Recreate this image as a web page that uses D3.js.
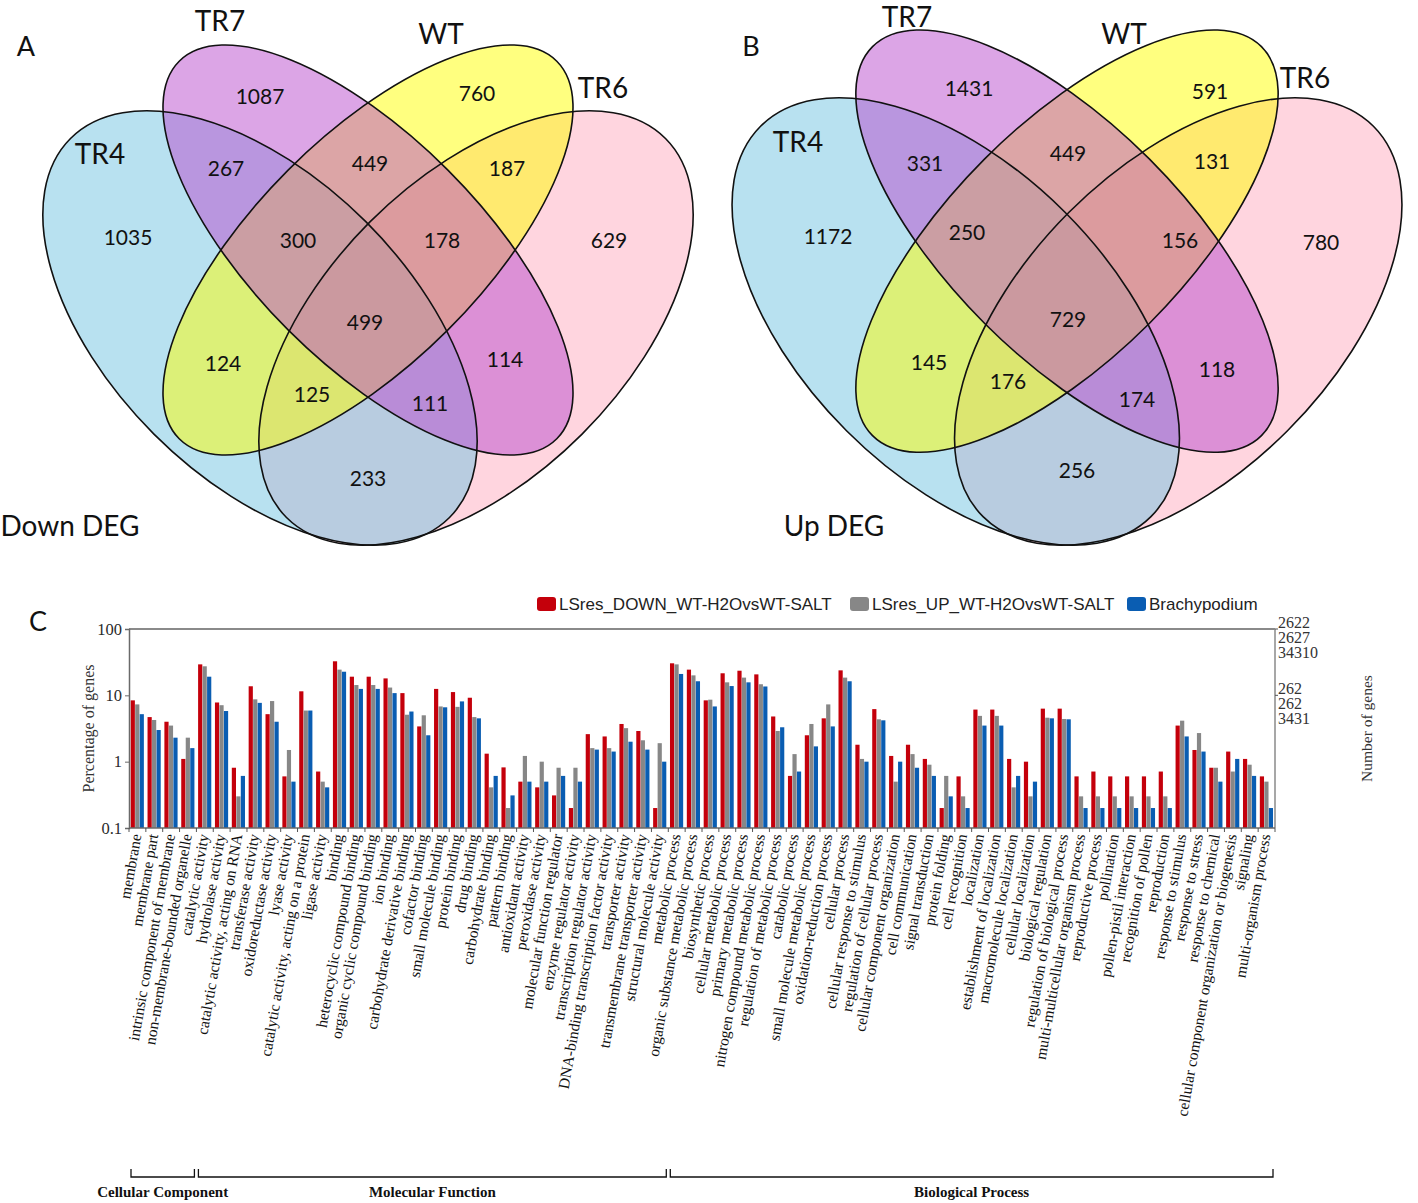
<!DOCTYPE html>
<html><head><meta charset="utf-8">
<script src="https://cdn.jsdelivr.net/npm/d3@7"></script>
<style>body{margin:0;background:#fff}svg{display:block}</style>
</head><body>
<svg id="c" width="1418" height="1203"></svg>
<script>
// ---------------- DATA ----------------
const vennSets = ["TR4", "TR7", "WT", "TR6"];
const regionKeys = ["TR7", "WT", "TR4&TR7", "TR7&WT", "WT&TR6", "TR4", "TR4&TR7&WT", "TR7&WT&TR6",
  "TR6", "TR4&TR7&WT&TR6", "TR4&WT", "TR7&TR6", "TR4&WT&TR6", "TR4&TR7&TR6", "TR4&TR6"];
const downCounts = [1087, 760, 267, 449, 187, 1035, 300, 178, 629, 499, 124, 114, 125, 111, 233];
const upCounts   = [1431, 591, 331, 449, 131, 1172, 250, 156, 780, 729, 145, 118, 176, 174, 256];

const categories = ["membrane", "membrane part", "intrinsic component of membrane", "non-membrane-bounded organelle",
  "catalytic activity", "hydrolase activity", "catalytic activity, acting on RNA", "transferase activity",
  "oxidoreductase activity", "lyase activity", "catalytic activity, acting on a protein", "ligase activity",
  "binding", "heterocyclic compound binding", "organic cyclic compound binding", "ion binding",
  "carbohydrate derivative binding", "cofactor binding", "small molecule binding", "protein binding",
  "drug binding", "carbohydrate binding", "pattern binding", "antioxidant activity", "peroxidase activity",
  "molecular function regulator", "enzyme regulator activity", "transcription regulator activity",
  "DNA-binding transcription factor activity", "transporter activity", "transmembrane transporter activity",
  "structural molecule activity",
  "metabolic process", "organic substance metabolic process", "biosynthetic process", "cellular metabolic process",
  "primary metabolic process", "nitrogen compound metabolic process", "regulation of metabolic process",
  "catabolic process", "small molecule metabolic process", "oxidation-reduction process", "cellular process",
  "cellular response to stimulus", "regulation of cellular process", "cellular component organization",
  "cell communication", "signal transduction", "protein folding", "cell recognition", "localization",
  "establishment of localization", "macromolecule localization", "cellular localization", "biological regulation",
  "regulation of biological process", "multi-multicellular organism process", "reproductive process", "pollination",
  "pollen-pistil interaction", "recognition of pollen", "reproduction", "response to stimulus", "response to stress",
  "response to chemical", "cellular component organization or biogenesis", "signaling", "multi-organism process"];

const groupNames = ["Cellular Component", "Molecular Function", "Biological Process"];
const groupSizes = [4, 28, 36];

const seriesNames = ["LSres_DOWN_WT-H2OvsWT-SALT", "LSres_UP_WT-H2OvsWT-SALT", "Brachypodium"];
const downPct = [8.4, 4.7, 4.0, 1.1, 29.3, 7.8, 0.81, 13.7, 5.2, 0.6, 11.5, 0.71, 32.6, 19.1, 19.1, 18.0,
  10.8, 3.4, 12.5, 11.2, 9.2, 1.32, 0.82, 0.5, 0.41, 0.31, 0.2, 2.6, 2.4, 3.7, 2.9, 0.2,
  30.4, 24.4, 8.4, 21.5, 23.5, 20.7, 4.8, 0.61, 2.5, 4.5, 23.8, 1.8, 6.2, 1.22, 1.8, 1.1, 0.2, 0.6,
  6.1, 6.1, 1.1, 1.0, 6.3, 6.3, 0.6, 0.71, 0.6, 0.6, 0.6, 0.71, 3.5, 1.5, 0.81, 1.42, 1.1, 0.6];
const upPct = [7.3, 4.25, 3.5, 2.3, 27.4, 7.1, 0.3, 8.7, 8.2, 1.5, 5.9, 0.5, 24.4, 14.3, 14.3, 13.1,
  5.1, 5.0, 6.8, 6.7, 4.7, 0.41, 0.2, 1.22, 1.0, 0.81, 0.81, 1.6, 1.6, 3.2, 2.1, 1.9,
  29.3, 20.0, 8.6, 15.7, 18.5, 14.7, 2.9, 1.3, 3.7, 7.3, 18.5, 1.1, 4.35, 0.5, 1.3, 0.9, 0.61, 0.3,
  4.9, 4.9, 0.41, 0.3, 4.6, 4.4, 0.3, 0.3, 0.3, 0.3, 0.3, 0.3, 4.15, 2.7, 0.81, 0.71, 0.9, 0.5];
const brachyPct = [5.2, 3.0, 2.3, 1.6, 19.1, 5.8, 0.61, 7.7, 4.0, 0.5, 5.9, 0.41, 22.7, 12.5, 12.5, 10.8,
  5.7, 2.5, 6.6, 8.1, 4.5, 0.61, 0.31, 0.5, 0.5, 0.61, 0.5, 1.52, 1.42, 2.0, 1.52, 1.0,
  21.0, 16.3, 6.8, 13.8, 15.7, 13.6, 3.3, 0.71, 1.7, 3.4, 16.3, 1.0, 4.2, 1.0, 0.81, 0.61, 0.3, 0.2,
  3.5, 3.5, 0.61, 0.5, 4.5, 4.35, 0.2, 0.2, 0.2, 0.2, 0.2, 0.2, 2.4, 1.42, 0.5, 1.1, 0.61, 0.2];

const yTicks = [0.1, 1, 10, 100];
const rightTicks = [100, 10];
const rightTickGenes = [[2622, 2627, 34310], [262, 262, 3431]];

// ---------------- LAYOUT ----------------
const svg = d3.select("#c");
const vennFont = "Lato, 'Open Sans', sans-serif";
const serif = "'Liberation Serif', 'Times New Roman', serif";
const sans = "'Liberation Sans', Arial, sans-serif";

// Venn ellipse geometry (panel A pixels), per set
const ellGeom = {
  TR4: {cx: 260, cy: 328, rx: 268, ry: 150, rot: 45},
  TR7: {cx: 368, cy: 250, rx: 267, ry: 113, rot: 45},
  WT:  {cx: 368, cy: 250, rx: 267, ry: 113, rot: -45},
  TR6: {cx: 476, cy: 328, rx: 268, ry: 150, rot: -45}
};
const setColor = {TR4: "#72c3e2", TR7: "#b94bcd", WT: "#ffff00", TR6: "#ffabbf"};
const drawOrder = ["TR6", "TR4", "WT", "TR7"];

const panels = [
  {
    counts: downCounts, title: "Down DEG", letter: "A",
    tx: x => x, ty: y => y, k: 1,
    letterPos: [26, 45], titlePos: [70, 525],
    setLabelPos: {TR4: [100, 153], TR7: [220, 20], WT: [441, 33], TR6: [603, 87]},
    labelPos: [[260,95],[477,92],[226,167],[370,162],[507,167],[128,236],[298,239],[442,239],
               [609,239],[365,321],[223,362],[505,358],[312,393],[430,402],[368,477]]
  },
  {
    counts: upCounts, title: "Up DEG", letter: "B",
    tx: x => 1067 + 1.03 * (x - 368), ty: y => 545 + 1.03 * (y - 545), k: 1.03,
    letterPos: [751, 45], titlePos: [834, 525],
    setLabelPos: {TR4: [798, 141], TR7: [907, 16], WT: [1124, 33], TR6: [1305, 77]},
    labelPos: [[969,87],[1210,90],[925,162],[1068,152],[1212,160],[828,235],[967,231],[1180,239],
               [1321,241],[1068,318],[929,361],[1217,368],[1008,380],[1137,398],[1077,469]]
  }
];

panels.forEach(p => {
  const g = svg.append("g");
  const ell = s => {
    const e = ellGeom[s];
    return {cx: p.tx(e.cx), cy: p.ty(e.cy), rx: e.rx * p.k, ry: e.ry * p.k, rot: e.rot};
  };
  const shape = function(s) {
    const e = ell(s);
    d3.select(this).attr("cx", 0).attr("cy", 0).attr("rx", e.rx).attr("ry", e.ry)
      .attr("transform", `translate(${e.cx},${e.cy}) rotate(${e.rot})`);
  };
  g.selectAll("ellipse.fill").data(drawOrder).join("ellipse")
    .attr("class", "fill").each(shape)
    .attr("fill", s => setColor[s]).attr("fill-opacity", 0.5).attr("stroke", "none");
  g.selectAll("ellipse.line").data(drawOrder).join("ellipse")
    .attr("class", "line").each(shape)
    .attr("fill", "none").attr("stroke", "#111").attr("stroke-width", 1.6);

  g.selectAll("text.num").data(p.counts).join("text")
    .attr("class", "num")
    .attr("x", (d, i) => p.labelPos[i][0]).attr("y", (d, i) => p.labelPos[i][1])
    .attr("text-anchor", "middle").attr("dominant-baseline", "central")
    .attr("font-family", vennFont).attr("font-size", 21).attr("fill", "#111")
    .text(d => d);

  g.selectAll("text.set").data(vennSets).join("text")
    .attr("class", "set")
    .attr("x", s => p.setLabelPos[s][0]).attr("y", s => p.setLabelPos[s][1])
    .attr("text-anchor", "middle").attr("dominant-baseline", "central")
    .attr("font-family", vennFont).attr("font-size", 28).attr("fill", "#111")
    .text(s => s);

  g.append("text").attr("x", p.letterPos[0]).attr("y", p.letterPos[1])
    .attr("text-anchor", "middle").attr("dominant-baseline", "central")
    .attr("font-family", vennFont).attr("font-size", 27).attr("fill", "#111").text(p.letter);
  g.append("text").attr("x", p.titlePos[0]).attr("y", p.titlePos[1])
    .attr("text-anchor", "middle").attr("dominant-baseline", "central")
    .attr("font-family", vennFont).attr("font-size", 28).attr("fill", "#111").text(p.title);
});

svg.append("text").attr("x", 38).attr("y", 620)
  .attr("text-anchor", "middle").attr("dominant-baseline", "central")
  .attr("font-family", vennFont).attr("font-size", 27).attr("fill", "#111").text("C");

// ---------------- BAR CHART ----------------
const L = 129, R = 1275, T = 629, B = 828;
const x = d3.scaleBand().domain(categories).range([L, R]).paddingInner(0.2).paddingOuter(0.1);
const step = x.step();
const xs = d3.scaleBand().domain(seriesNames).range([0, x.bandwidth()]);
const y = d3.scaleLog().domain([0.1, 100]).range([B, T]);
const seriesColor = ["#c4000b", "#878787", "#0a5db2"];
const seriesData = [downPct, upPct, brachyPct];

const bc = svg.append("g");
seriesNames.forEach((s, si) => {
  bc.append("g").selectAll("rect").data(categories).join("rect")
    .attr("x", c => x(c) + xs(s))
    .attr("width", xs.bandwidth() - 0.3)
    .attr("y", (c, i) => y(seriesData[si][i]))
    .attr("height", (c, i) => y(0.1) - y(seriesData[si][i]))
    .attr("fill", seriesColor[si]);
});

// frame lines
bc.append("line").attr("x1", L).attr("x2", R).attr("y1", T).attr("y2", T)
  .attr("stroke", "#8a8a8a").attr("stroke-width", 2);
bc.append("line").attr("x1", R).attr("x2", R).attr("y1", T).attr("y2", B)
  .attr("stroke", "#8a8a8a").attr("stroke-width", 1.5);

// left axis
const yAxis = d3.axisLeft(y).tickValues(yTicks).tickFormat(d => String(d)).tickSize(4).tickPadding(3);
const ya = bc.append("g").attr("transform", `translate(${L},0)`).call(yAxis);
ya.select(".domain").attr("stroke", "#6a6a6a").attr("stroke-width", 1.5);
ya.selectAll(".tick line").attr("stroke", "#6a6a6a");
ya.selectAll(".tick text").attr("font-family", serif).attr("font-size", 16.5).attr("fill", "#2a2a2a");

// bottom axis with ticks at category boundaries
bc.append("line").attr("x1", L).attr("x2", R).attr("y1", B).attr("y2", B)
  .attr("stroke", "#6a6a6a").attr("stroke-width", 1.5);
const bounds = categories.map(c => x(c) - step * 0.1).concat([R]);
bc.append("g").selectAll("line").data(bounds).join("line")
  .attr("x1", d => d).attr("x2", d => d).attr("y1", B).attr("y2", B + 4)
  .attr("stroke", "#555").attr("stroke-width", 1);

// right axis ticks and gene numbers
bc.append("g").selectAll("line").data(rightTicks).join("line")
  .attr("x1", R).attr("x2", R + 3).attr("y1", d => y(d)).attr("y2", d => y(d))
  .attr("stroke", "#555");
rightTicks.forEach((t, ti) => {
  bc.append("g").selectAll("text").data(rightTickGenes[ti]).join("text")
    .attr("x", R + 3).attr("y", (d, j) => y(t) - 7 + j * 15)
    .attr("dominant-baseline", "central")
    .attr("font-family", serif).attr("font-size", 16).attr("fill", "#333")
    .text(d => d);
});

// axis titles
bc.append("text").attr("transform", `translate(88,${(T + B) / 2}) rotate(-90)`)
  .attr("text-anchor", "middle").attr("dominant-baseline", "central")
  .attr("font-family", serif).attr("font-size", 16).attr("fill", "#333").text("Percentage of genes");
bc.append("text").attr("transform", `translate(1366,${(T + B) / 2}) rotate(-90)`)
  .attr("text-anchor", "middle").attr("dominant-baseline", "central")
  .attr("font-family", serif).attr("font-size", 15.5).attr("fill", "#333").text("Number of genes");

// category labels
bc.append("g").selectAll("text").data(categories).join("text")
  .attr("transform", c => `translate(${x(c) + x.bandwidth() / 2 + 4},${B + 7}) rotate(-80)`)
  .attr("text-anchor", "end")
  .attr("font-family", serif).attr("font-size", 15.5).attr("fill", "#111")
  .text(c => c);

// group brackets
let startIdx = 0;
groupNames.forEach((gname, gi) => {
  const i0 = startIdx, i1 = startIdx + groupSizes[gi];
  startIdx = i1;
  const x0 = bounds[i0] + 2, x1 = bounds[i1] - 2;
  bc.append("path").attr("d", `M${x0},1169V1177H${x1}V1169`)
    .attr("fill", "none").attr("stroke", "#111").attr("stroke-width", 1.3);
  bc.append("text").attr("x", (x0 + x1) / 2).attr("y", 1197).attr("text-anchor", "middle")
    .attr("font-family", serif).attr("font-weight", "bold").attr("font-size", 15).attr("fill", "#111")
    .text(gname);
});

// legend
const legX = [537, 850, 1127];
const lg = svg.append("g");
seriesNames.forEach((s, i) => {
  lg.append("rect").attr("x", legX[i]).attr("y", 597).attr("width", 19).attr("height", 14)
    .attr("rx", 3).attr("fill", seriesColor[i]);
  lg.append("text").attr("x", legX[i] + 22).attr("y", 604).attr("dominant-baseline", "central")
    .attr("font-family", sans).attr("font-size", 17).attr("fill", "#222").text(s);
});
</script>
</body></html>
